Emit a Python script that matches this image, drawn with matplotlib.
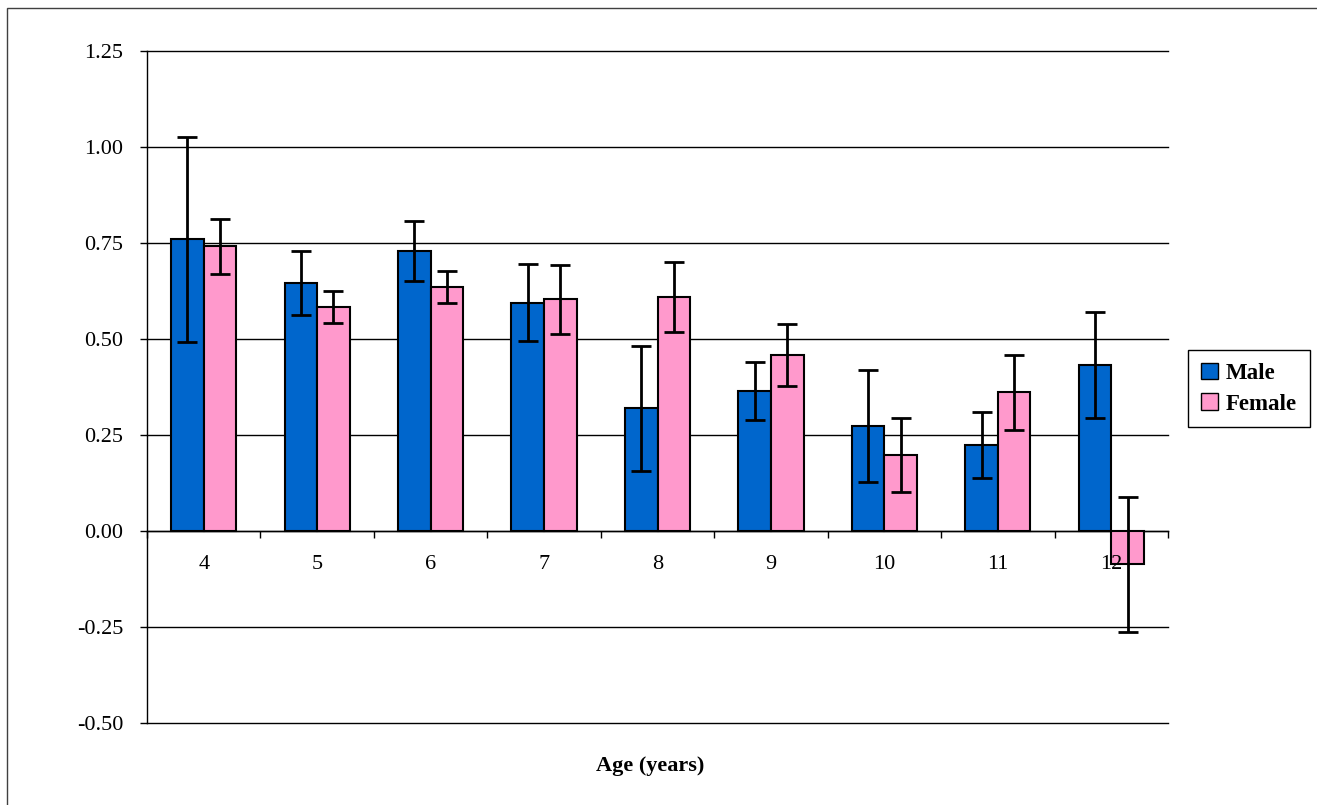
import numpy as np
import matplotlib
matplotlib.use("Agg")
import matplotlib.pyplot as plt
import matplotlib.patches as mpatches

plt.rcParams["font.family"] = ["Liberation Serif", "DejaVu Serif"]

# data
ages = ["4", "5", "6", "7", "8", "9", "10", "11", "12"]
male = [0.760, 0.646, 0.728, 0.595, 0.320, 0.365, 0.273, 0.224, 0.432]
male_err = [0.267, 0.083, 0.078, 0.100, 0.163, 0.076, 0.146, 0.086, 0.138]
female = [0.741, 0.584, 0.636, 0.603, 0.609, 0.458, 0.197, 0.361, -0.087]
female_err = [0.071, 0.042, 0.042, 0.090, 0.092, 0.080, 0.096, 0.098, 0.175]
yticks = [-0.50, -0.25, 0.00, 0.25, 0.50, 0.75, 1.00, 1.25]

W, H = 1317, 805
fig = plt.figure(figsize=(W / 100, H / 100), dpi=100)
ax = fig.add_axes([147 / W, (H - 723) / H, (1168 - 147) / W, (723 - 51) / H])

# outer chart border (only top and left edges are inside the image)
fig.patches.append(mpatches.Rectangle((7 / W, -0.1), 1.5, 1 - 8 / H + 0.1,
                                      transform=fig.transFigure, fill=False,
                                      edgecolor="#404040", linewidth=1))

x = np.arange(len(ages))
bw = 0.287
err_kw = dict(ecolor="black", elinewidth=2, capsize=7, capthick=2)
ax.bar(x - bw / 2, male, bw, yerr=male_err, color="#0066CC",
       edgecolor="black", linewidth=1.5, label="Male", error_kw=err_kw, zorder=3)
ax.bar(x + bw / 2, female, bw, yerr=female_err, color="#FF99CC",
       edgecolor="black", linewidth=1.5, label="Female", error_kw=err_kw, zorder=3)

ax.set_xlim(-0.5, len(ages) - 0.5)
ax.set_ylim(-0.5, 1.25)
ax.set_yticks(yticks)
ax.set_yticklabels([f"{v:.2f}" for v in yticks], fontsize=16)
ax.yaxis.grid(True, color="black", linewidth=1)
for gl in ax.get_ygridlines():
    gl.set_clip_on(False)
ax.set_axisbelow(True)

for s in ["top", "right"]:
    ax.spines[s].set_visible(False)
ax.spines["bottom"].set_position(("data", 0))
ax.spines["bottom"].set_linewidth(1)
ax.spines["left"].set_linewidth(1)

ax.set_xticks(x)
ax.set_xticklabels(ages, fontsize=16)
ax.set_xticks(np.arange(-0.5, len(ages)), minor=True)
ax.tick_params(axis="x", which="major", length=0, pad=17)
ax.tick_params(axis="x", which="minor", length=5, direction="out", width=1)
ax.tick_params(axis="y", length=5, width=1, pad=12)
ax.xaxis.set_zorder(4)

fig.text(650 / W, 1 - 766 / H, "Age (years)", ha="center", va="center",
         fontsize=16, fontweight="bold")

handles = [mpatches.Patch(facecolor="#0066CC", edgecolor="black", label="Male"),
           mpatches.Patch(facecolor="#FF99CC", edgecolor="black", label="Female")]
leg = ax.legend(handles=handles, loc="upper left",
                bbox_to_anchor=(1188 / W, 1 - 350 / H), bbox_transform=fig.transFigure,
                borderaxespad=0, fancybox=False, framealpha=1, edgecolor="black",
                prop={"size": 16.5, "weight": "bold"}, handlelength=0.75,
                handleheight=0.75, handletextpad=0.35, labelspacing=0.4,
                borderpad=0.55)
leg.get_frame().set_linewidth(1)

fig.savefig("out.png", dpi=100)
